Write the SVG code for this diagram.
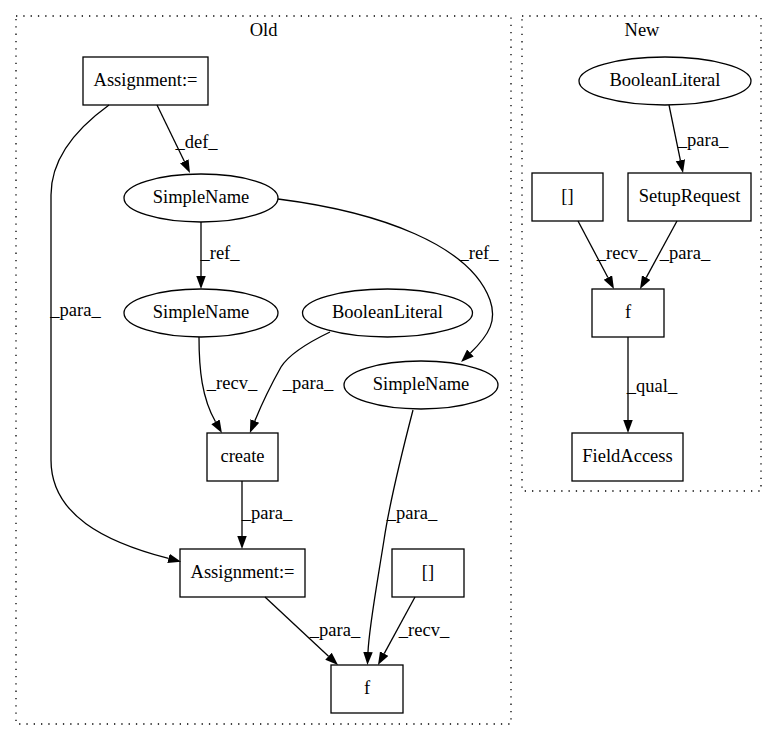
<svg xmlns="http://www.w3.org/2000/svg" width="777" height="740" viewBox="0 0 777 740">
<style>
text{font-family:"Liberation Serif","Times New Roman",serif;font-size:18.5px;fill:#000;text-anchor:middle}
.node rect,.node ellipse{fill:none;stroke:#000;stroke-width:1.3}
.cluster{fill:none;stroke:#000;stroke-width:1.3;stroke-dasharray:1.3,6}
.edge{fill:none;stroke:#000;stroke-width:1.3;marker-end:url(#ah)}
</style>
<defs>
<marker id="ah" markerUnits="userSpaceOnUse" markerWidth="14" markerHeight="11" refX="0" refY="4.75" orient="auto">
<path d="M0,0 L13,4.75 L0,9.5 z" fill="#000"/>
</marker>
</defs>
<rect width="777" height="740" fill="#fff"/>
<g id="cluster_old">
<rect class="cluster" x="16" y="16" width="495" height="708"/>
<text x="263.5" y="36">Old</text>
</g>
<g id="cluster_new">
<rect class="cluster" x="522" y="16" width="239" height="475"/>
<text x="642" y="36">New</text>
</g>
<g id="connectors">
<path class="edge" d="M109,105 C80,126 51,155 51,195 L51,460 C51,515 105,542 168.5,558.4"/>
<text x="75.5" y="316">_para_</text>
<path class="edge" d="M157,105 L184.3,161.3"/>
<text x="196.5" y="148">_def_</text>
<path class="edge" d="M201,222 L201,276"/>
<text x="220" y="259">_ref_</text>
<path class="edge" d="M278,199 C380,212 470,245 490,300 C497,320 490,334 470.4,353"/>
<text x="479" y="259">_ref_</text>
<path class="edge" d="M199,337 C199,370 202,398 215.5,421.8"/>
<text x="232" y="389">_recv_</text>
<path class="edge" d="M330,332 C305,344 288,356 281,367 C272,383 263,401 254.8,420.9"/>
<text x="308" y="389">_para_</text>
<path class="edge" d="M413,410 C400,460 390,500 384,540 C376,590 369,628 368,652"/>
<text x="412" y="519">_para_</text>
<path class="edge" d="M242,481 L242,536"/>
<text x="267" y="519">_para_</text>
<path class="edge" d="M265,597 L328.5,656.2"/>
<text x="335" y="636">_para_</text>
<path class="edge" d="M415,597 L384.2,653.6"/>
<text x="424" y="636">_recv_</text>
<path class="edge" d="M669,105 L680.4,160.3"/>
<text x="703" y="146">_para_</text>
<path class="edge" d="M578,221 L607.9,277.5"/>
<text x="622" y="259">_recv_</text>
<path class="edge" d="M677,221 L646.2,277.6"/>
<text x="685" y="259">_para_</text>
<path class="edge" d="M628,337 L628,420"/>
<text x="652" y="392">_qual_</text>
</g>
<g id="old_assign1" class="node"><rect x="83" y="57" width="125" height="48"/><text x="145.5" y="86">Assignment:=</text></g>
<g id="old_simplename1" class="node"><ellipse cx="201" cy="198" rx="77" ry="24"/><text x="201" y="203">SimpleName</text></g>
<g id="old_simplename2" class="node"><ellipse cx="201" cy="313" rx="77" ry="24"/><text x="201" y="318">SimpleName</text></g>
<g id="old_boolean" class="node"><ellipse cx="387.5" cy="313" rx="85" ry="24"/><text x="387.5" y="318">BooleanLiteral</text></g>
<g id="old_simplename3" class="node"><ellipse cx="421" cy="385" rx="77" ry="24"/><text x="421" y="390">SimpleName</text></g>
<g id="old_create" class="node"><rect x="207" y="433" width="71" height="48"/><text x="242.5" y="462">create</text></g>
<g id="old_assign2" class="node"><rect x="180" y="549" width="125" height="48"/><text x="242.5" y="578">Assignment:=</text></g>
<g id="old_brackets" class="node"><rect x="392" y="549" width="72" height="48"/><text x="428" y="578">[]</text></g>
<g id="old_f" class="node"><rect x="331" y="665" width="72" height="48"/><text x="367" y="694">f</text></g>
<g id="new_boolean" class="node"><ellipse cx="665" cy="81" rx="86" ry="24"/><text x="665" y="86">BooleanLiteral</text></g>
<g id="new_brackets" class="node"><rect x="532" y="173" width="71" height="48"/><text x="567.5" y="202">[]</text></g>
<g id="new_setup" class="node"><rect x="628" y="173" width="123" height="48"/><text x="689.5" y="202">SetupRequest</text></g>
<g id="new_f" class="node"><rect x="592" y="289" width="72" height="48"/><text x="628" y="318">f</text></g>
<g id="new_fieldaccess" class="node"><rect x="572" y="433" width="111" height="48"/><text x="627.5" y="462">FieldAccess</text></g>
</svg>
